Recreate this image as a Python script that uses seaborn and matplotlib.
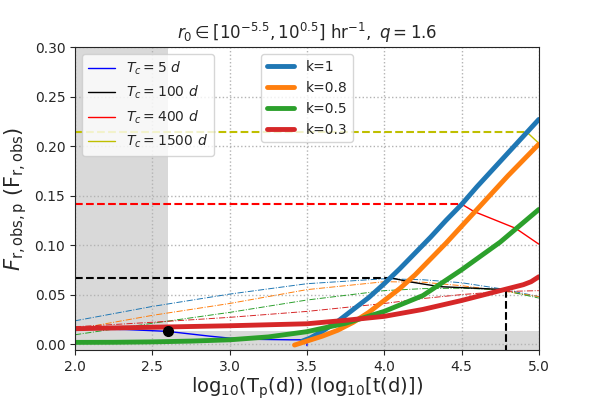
import numpy as np
import matplotlib
matplotlib.use('Agg')
import matplotlib.pyplot as plt
import seaborn as sns

# thick curves, one per k
k_labels = ['k=1', 'k=0.8', 'k=0.5', 'k=0.3']
k_colors = ['tab:blue', 'tab:orange', 'tab:green', 'tab:red']

k1_x = [3.47, 3.52, 3.6, 3.7, 3.8, 3.9, 4.0, 4.1, 4.2, 4.3, 4.4, 4.5, 4.6, 4.7, 4.8, 4.9, 5.0]
k1_y = [0.003, 0.006, 0.013, 0.023, 0.035, 0.047, 0.061, 0.076, 0.092, 0.108, 0.125, 0.141, 0.159, 0.176, 0.193, 0.210, 0.227]

k08_x = [3.42, 3.5, 3.6, 3.7, 3.8, 3.9, 4.0, 4.1, 4.2, 4.3, 4.4, 4.5, 4.6, 4.7, 4.8, 4.9, 5.0]
k08_y = [-0.001, 0.003, 0.008, 0.014, 0.022, 0.032, 0.044, 0.056, 0.070, 0.086, 0.102, 0.119, 0.136, 0.153, 0.170, 0.186, 0.202]

k05_x = [2.0, 2.25, 2.5, 2.75, 3.0, 3.25, 3.5, 3.75, 4.0, 4.25, 4.5, 4.75, 5.0]
k05_y = [0.0017, 0.0018, 0.0022, 0.003, 0.0043, 0.0072, 0.0125, 0.021, 0.033, 0.049, 0.075, 0.103, 0.136]

k03_x = [2.0, 2.5, 3.0, 3.5, 3.75, 4.0, 4.25, 4.5, 4.75, 4.9, 4.95, 5.0]
k03_y = [0.0155, 0.017, 0.0185, 0.0205, 0.024, 0.028, 0.035, 0.044, 0.054, 0.060, 0.063, 0.068]

# thin dash-dot model curves
dd_x = [2.0, 2.5, 3.0, 3.5, 4.0, 4.25, 4.5, 4.75, 5.0]
dd_k1 = [0.0235, 0.038, 0.0505, 0.061, 0.066, 0.065, 0.062, 0.056, 0.048]
dd_k08 = [0.015, 0.029, 0.041, 0.055, 0.063, 0.0625, 0.059, 0.054, 0.048]
dd_k05 = [0.0094, 0.021, 0.032, 0.0445, 0.054, 0.056, 0.0565, 0.055, 0.0465]
dd_k03 = [0.0175, 0.022, 0.027, 0.033, 0.041, 0.046, 0.050, 0.053, 0.054]

# Tc envelopes
tc_labels = [r'$T_c=5\ d$', r'$T_c=100\ d$', r'$T_c=400\ d$', r'$T_c=1500\ d$']
tc_colors = ['b', 'k', 'r', 'y']
tc_level = [0.0157, 0.0667, 0.1415, 0.2145]
tc_xstop = [2.3, 4.05, 4.5, 4.92]

env5_x = [2.0, 2.33, 2.6, 2.87, 3.0, 3.2, 3.39, 3.5, 3.5]
env5_y = [0.0155, 0.0147, 0.0128, 0.008, 0.006, 0.0047, 0.0043, 0.0043, -0.0015]
env100_x = [4.05, 4.16, 4.36, 4.79]
env100_y = [0.0667, 0.063, 0.058, 0.055]
env400_x = [4.5, 4.58, 4.85, 5.0]
env400_y = [0.1415, 0.134, 0.117, 0.101]
env1500_x = [4.92, 5.0]
env1500_y = [0.2145, 0.203]

dot_x = [2.6]
dot_y = [0.0128]
vline_x = [4.79, 4.79]
vline_y = [0.055, -0.006]

sns.set_style('ticks')
fig = plt.figure(figsize=(6, 4), dpi=100)
ax = fig.add_axes([0.125, 0.125, 0.773, 0.757])

ax.axvspan(2.0, 2.6, color='0.85', lw=0, zorder=0)
ax.axhspan(-0.01, 0.0127, color='0.85', lw=0, zorder=0)

for yy, c in zip([dd_k1, dd_k08, dd_k05, dd_k03], k_colors):
    sns.lineplot(x=dd_x, y=yy, ax=ax, color=c, lw=0.7, linestyle='-.',
                 estimator=None, sort=False)

for lvl, xs, c in zip(tc_level, tc_xstop, tc_colors):
    sns.lineplot(x=[2.0, xs], y=[lvl, lvl], ax=ax, color=c, lw=1.5,
                 linestyle='--', estimator=None, sort=False)

sns.lineplot(x=vline_x, y=vline_y, ax=ax, color='k', lw=1.5, linestyle='--',
             estimator=None, sort=False)

env_x = [env5_x, env100_x, env400_x, env1500_x]
env_y = [env5_y, env100_y, env400_y, env1500_y]
tc_handles = []
for xs, ys, c, lab in zip(env_x, env_y, tc_colors, tc_labels):
    sns.lineplot(x=xs, y=ys, ax=ax, color=c, lw=1, estimator=None, sort=False)
    tc_handles.append(ax.lines[-1])

thick_x = [k1_x, k08_x, k05_x, k03_x]
thick_y = [k1_y, k08_y, k05_y, k03_y]
k_handles = []
for xs, ys, c in zip(thick_x, thick_y, k_colors):
    sns.lineplot(x=xs, y=ys, ax=ax, color=c, lw=3.5, estimator=None, sort=False)
    k_handles.append(ax.lines[-1])

ax.plot(dot_x, dot_y, 'o', color='k', ms=7, zorder=5)

ax.set_xlim(2.0, 5.0)
ax.set_ylim(-0.006, 0.30)
ax.set_xticks(np.arange(2.0, 5.01, 0.5))
ax.set_yticks(np.arange(0.0, 0.301, 0.05))
ax.grid(True, ls=':', color='0.7', lw=1)

ax.set_title(r'$r_0\in[10^{-5.5},10^{0.5}]\ \mathrm{hr}^{-1},\ q=1.6$', fontsize=12)
ax.set_xlabel(r'$\rm log_{10}(T_p(d))$ ($\rm log_{10}[t(d)]$)', fontsize=14, labelpad=1)
ax.set_ylabel(r'$F_{\rm r,obs,p}$ ($\rm F_{r,obs}$)', fontsize=15)

leg1 = ax.legend(tc_handles, tc_labels, loc='upper left', fontsize=10)
ax.add_artist(leg1)
ax.legend(k_handles, k_labels, loc='upper center', fontsize=10)

fig.savefig('out.png', dpi=100)
